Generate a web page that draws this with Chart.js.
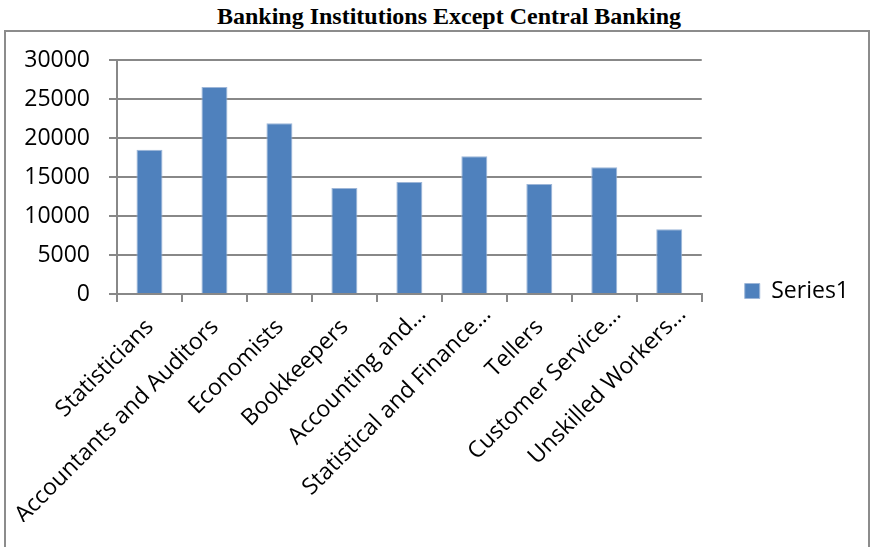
<!DOCTYPE html>
<html>
<head>
<meta charset="utf-8">
<title>Banking Institutions Except Central Banking</title>
<script src="https://cdn.jsdelivr.net/npm/chart.js@4"></script>
<style>
  body { margin: 0; background: #fff; }
  #title {
    position: absolute; left: 0; top: 3px; width: 898px; text-align: center;
    font: bold 24px "Liberation Serif", "Times New Roman", serif; color: #000;
  }
  #frame {
    position: absolute; left: 4px; top: 30px; width: 862px; height: 530px;
    border: 2px solid #8c8c8c;
  }
  canvas { display: block; }
</style>
</head>
<body>
<div id="title">Banking Institutions Except Central Banking</div>
<div id="frame"><canvas id="chartCanvas" width="862" height="518"></canvas></div>
<script>
// --- data ---
// untruncated names carry trailing spaces so they sit a little lower than the "…" ones
const occupations = [
  "Statisticians   ",
  "Accountants and Auditors   ",
  "Economists   ",
  "Bookkeepers   ",
  "Accounting and…",
  "Statistical and Finance…",
  "Tellers   ",
  "Customer Service…",
  "Unskilled Workers…"
];
const series1 = [18500, 26550, 21900, 13600, 14350, 17650, 14100, 16250, 8300];
const yTicks = [0, 5000, 10000, 15000, 20000, 25000, 30000];

const gridGray = "#888888";
const axisFont = { family: "'Open Sans', sans-serif", size: 23 };

const canvas = document.getElementById("chartCanvas");

new Chart(canvas, {
  type: "bar",
  data: {
    labels: occupations,
    datasets: [{
      label: "Series1",
      data: series1,
      backgroundColor: "#4f81bd",
      borderColor: "#9db6d8",
      borderWidth: 1,
      categoryPercentage: 0.8,
      barPercentage: 0.5
    }]
  },
  options: {
    responsive: false,
    devicePixelRatio: 1,
    animation: false,
    // bottom padding only lifts the legend; the x axis height is fixed below
    layout: { padding: { top: 28, left: 0, right: 9, bottom: 28 } },
    plugins: {
      title: { display: false },
      tooltip: { enabled: false },
      legend: {
        position: "right",
        labels: {
          boxWidth: 15,
          boxHeight: 15,
          padding: 43,
          color: "#000",
          font: axisFont
        }
      }
    },
    scales: {
      x: {
        grid: {
          offset: true,
          drawOnChartArea: false,
          drawTicks: true,
          tickLength: 8,
          color: gridGray,
          lineWidth: 2
        },
        border: { color: gridGray, width: 2 },
        ticks: {
          color: "#000",
          font: axisFont,
          autoSkip: false,
          minRotation: 45,
          maxRotation: 45,
          labelOffset: 13,
          padding: -1
        },
        afterFit: s => { s.height = 228; }
      },
      y: {
        min: 0,
        max: 30000,
        afterBuildTicks: s => { s.ticks = yTicks.map(v => ({ value: v })); },
        grid: {
          color: gridGray,
          lineWidth: 2,
          drawTicks: true,
          tickLength: 8
        },
        border: { color: gridGray, width: 2 },
        ticks: {
          color: "#000",
          font: axisFont,
          padding: 19,
          callback: v => String(v)
        },
        // keep the label gap from pushing the plot area down
        afterFit: s => {
          s.width = 111;
          s.paddingTop = 14;
          s.paddingBottom = 14;
        }
      }
    }
  }
});
</script>
</body>
</html>
